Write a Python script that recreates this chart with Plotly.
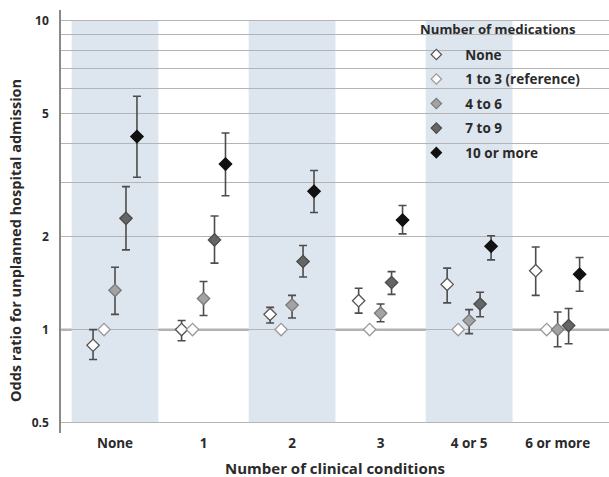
import math
import plotly.graph_objects as go

categories = ["None", "1", "2", "3", "4 or 5", "6 or more"]
med_groups = ["None", "1 to 3 (reference)", "4 to 6", "7 to 9", "10 or more"]

or_none = [0.89, 1.00, 1.12, 1.24, 1.40, 1.55]
lo_none = [0.80, 0.92, 1.05, 1.13, 1.22, 1.29]
hi_none = [1.00, 1.07, 1.18, 1.36, 1.58, 1.85]

or_ref = [1, 1, 1, 1, 1, 1]

or_4_6 = [1.34, 1.26, 1.20, 1.13, 1.07, 1.00]
lo_4_6 = [1.12, 1.11, 1.09, 1.06, 0.97, 0.88]
hi_4_6 = [1.59, 1.43, 1.29, 1.21, 1.16, 1.14]

or_7_9 = [2.29, 1.95, 1.66, 1.42, 1.21, 1.03]
lo_7_9 = [1.81, 1.64, 1.48, 1.30, 1.10, 0.90]
hi_7_9 = [2.90, 2.33, 1.87, 1.54, 1.32, 1.17]

or_10 = [4.21, 3.43, 2.80, 2.26, 1.86, 1.51]
lo_10 = [3.11, 2.71, 2.39, 2.04, 1.68, 1.33]
hi_10 = [5.68, 4.32, 3.27, 2.52, 2.01, 1.71]

y_tickvals = [0.5, 1, 2, 3, 4, 5, 6, 7, 8, 9, 10]
y_ticktext = ["0.5", "1", "2", "", "", "5", "", "", "", "", "10"]

series = [
    (med_groups[0], or_none, lo_none, hi_none, "#ffffff", "#555555"),
    (med_groups[1], or_ref, None, None, "#ffffff", "#9a9a9a"),
    (med_groups[2], or_4_6, lo_4_6, hi_4_6, "#a3a3a3", "#7a7a7a"),
    (med_groups[3], or_7_9, lo_7_9, hi_7_9, "#656565", "#4a4a4a"),
    (med_groups[4], or_10, lo_10, hi_10, "#111111", "#111111"),
]

FONT = "Open Sans"
TXT = "#2a2a2a"

fig = go.Figure()
for i, (name, vals, lo, hi, fill, line) in enumerate(series):
    kw = {}
    if lo is not None:
        kw["error_y"] = dict(
            type="data", symmetric=False,
            array=[h - v for h, v in zip(hi, vals)],
            arrayminus=[v - l for v, l in zip(vals, lo)],
            color="#4d4d4d", thickness=1.6, width=4,
        )
    fig.add_trace(go.Scatter(
        x=categories, y=vals, name=name, mode="markers",
        legendgroup="g%d" % i, offsetgroup="g%d" % i, showlegend=False,
        marker=dict(symbol="diamond", size=9.5, color=fill,
                    line=dict(color=line, width=1.3)),
        **kw,
    ))
# legend entries (smaller symbols, as in the reference key)
for i, (name, vals, lo, hi, fill, line) in enumerate(series):
    fig.add_trace(go.Scatter(
        x=[None], y=[None], name=name, mode="markers",
        legendgroup="g%d" % i, offsetgroup="g%d" % i, showlegend=True,
        marker=dict(symbol="diamond", size=8, color=fill,
                    line=dict(color=line, width=1.2)),
    ))

shapes = []
for i in (0, 2, 4):
    shapes.append(dict(type="rect", xref="x", yref="y", x0=i - 0.49, x1=i + 0.49,
                       y0=0.5, y1=10, fillcolor="#dde5ee", line=dict(width=0),
                       layer="below"))
shapes.append(dict(type="line", xref="paper", yref="y", x0=0, x1=1, y0=1, y1=1,
                   line=dict(color="#666666", width=1.7), layer="between"))

fig.update_layout(
    width=609, height=477,
    margin=dict(l=61, r=0, t=10, b=44),
    paper_bgcolor="white", plot_bgcolor="white",
    font=dict(family=FONT, color=TXT, size=12, weight="bold"),
    scattermode="group", scattergap=0.38,
    showlegend=True,
    legend=dict(
        x=0.632, y=0.931, xanchor="left", yanchor="top",
        bgcolor="rgba(0,0,0,0)",
        font=dict(family=FONT, size=13.5, color=TXT, weight="bold"),
        tracegroupgap=4, itemwidth=48,
    ),
    shapes=shapes,
    xaxis=dict(
        type="category", range=[-0.61, 5.58], showgrid=False, zeroline=False,
        showline=False, ticks="",
        tickfont=dict(family=FONT, size=13.5, color=TXT, weight="bold"),
    ),
    yaxis=dict(
        type="log", range=[math.log10(0.463), math.log10(10.8)],
        tickvals=y_tickvals, ticktext=y_ticktext,
        showgrid=True, gridcolor="#b4b4b4", gridwidth=1,
        zeroline=False, showline=True, linecolor="#8a8a8a", linewidth=1.5,
        ticks="", ticklabelstandoff=8,
        tickfont=dict(family=FONT, size=12, color=TXT, weight="bold"),
    ),
    annotations=[
        dict(text="Number of medications", xref="paper", yref="paper",
             x=0.6515, y=0.955, xanchor="left", yanchor="middle", showarrow=False,
             font=dict(family=FONT, size=13.2, color=TXT, weight="bold")),
        dict(text="Number of clinical conditions", xref="paper", yref="paper",
             x=0.5, y=-0.083, xanchor="center", yanchor="middle", showarrow=False,
             font=dict(family=FONT, size=15, color=TXT, weight="bold")),
        dict(text="Odds ratio for unplanned hospital admission", xref="paper", yref="paper",
             x=-0.082, y=0.454, xanchor="center", yanchor="middle", showarrow=False,
             textangle=-90,
             font=dict(family=FONT, size=14.5, color=TXT, weight="bold")),
    ],
)

fig.write_html("out.html", config={"displayModeBar": False},
               post_script="document.body.style.margin='0';document.body.style.padding='0';")
